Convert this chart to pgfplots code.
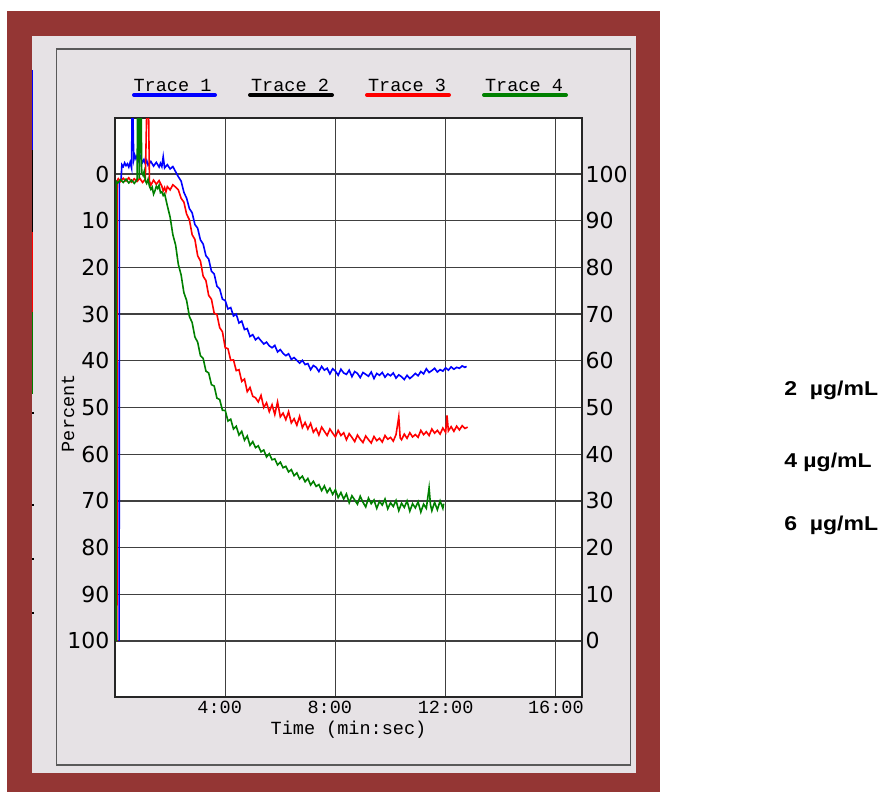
\documentclass[border=0pt]{standalone}
\usepackage{fontspec}
\setmainfont{DejaVu Sans}
\newfontfamily\mono{Liberation Mono}
\newfontfamily\arial{Liberation Sans}
\usepackage{pgfplots}
\pgfplotsset{compat=1.18}
\definecolor{frame}{HTML}{943634}
\definecolor{panel}{HTML}{E6E2E5}
\definecolor{tgreen}{HTML}{008000}
\newcommand{\monofont}{\mono\fontsize{13.9}{16}\selectfont}
\newcommand{\notefont}{\arial\bfseries\fontsize{15}{17}\selectfont}

\begin{document}
\begin{tikzpicture}
% background frame, legend and notes (image pixels)
\begin{scope}[x=0.75pt,y=-0.75pt,shift={(-115,-697)}]
  \fill[white] (0,0) rectangle (882,792);
  \fill[frame] (7,11) rectangle (660,792);
  \fill[panel] (32,36) rectangle (636,773);
  \draw[black!65, line width=1.1pt] (56.5,49) rectangle (630.5,765);
  \draw[blue, line width=1.4pt] (32.5,70) -- (32.5,150.5);
  \draw[black, line width=1.4pt] (32.5,150.5) -- (32.5,232);
  \draw[red, line width=1.4pt] (32.5,232) -- (32.5,312);
  \draw[tgreen, line width=1.4pt] (32.5,312) -- (32.5,394);
  \foreach \yy in {413,505,559,613} \fill[black] (32,\yy-0.7) rectangle (34,\yy+0.7);
  \node[font=\monofont] at (172.5,85) {Trace 1};
  \node[font=\monofont] at (290,85) {Trace 2};
  \node[font=\monofont] at (407,85) {Trace 3};
  \node[font=\monofont] at (524,85) {Trace 4};
  \draw[blue, line width=3pt, line cap=round] (134,95) -- (215,95);
  \draw[black, line width=3pt, line cap=round] (250,95) -- (332,95);
  \draw[red, line width=3pt, line cap=round] (367,95) -- (449,95);
  \draw[tgreen, line width=3pt, line cap=round] (484,95) -- (566,95);
  \node[font=\notefont, anchor=west, xscale=1.15, inner sep=0pt] at (784,390.5) {2\ \ µg/mL};
  \node[font=\notefont, anchor=west, xscale=1.15, inner sep=0pt] at (784,462) {4 µg/mL};
  \node[font=\notefont, anchor=west, xscale=1.15, inner sep=0pt] at (784,525.5) {6\ \ µg/mL};
\end{scope}

\begin{axis}[
  at={(0pt,0pt)}, anchor=south west,
  scale only axis, width=350.25pt, height=434.25pt,
  xmin=0, xmax=16.95, ymin=-12, ymax=112, y dir=reverse,
  axis background/.style={fill=white},
  axis line style={black!85, line width=1.1pt},
  grid=major, grid style={black!75, line width=1pt},
  major tick length=0pt,
  xtick={4,8,12,16},
  xticklabels={4:00\phantom{0},8:00\phantom{0},12:00,16:00},
  ytick={0,10,...,100},
  /pgf/number format/assume math mode=true,
  yticklabel style={font=\fontsize{16.5}{18}\selectfont, anchor=east, inner sep=0pt, xshift=-4pt},
  xticklabel style={font=\monofont, anchor=center, inner sep=0pt, yshift=-7.8pt},
  xlabel={Time (min:sec)},
  xlabel style={font=\monofont, at={(axis description cs:0.5,0)}, anchor=center, yshift=-24.5pt},
  ylabel={Percent},
  ylabel style={font=\monofont, at={(axis description cs:0,0.49)}, anchor=center, yshift=35.25pt},
]
% Trace 1
\addplot[blue, line width=1.2pt] coordinates {
(0.15,100) (0.16,1.5) (0.22,1.2) (0.25,-2.0) (0.30,-1.6) (0.35,-2.4) (0.40,-1.8) (0.45,-2.2)
(0.50,-1.5) (0.55,-2.5) (0.60,-1.3) (0.62,-13) (0.65,-13) (0.68,-3.0) (0.72,-4.0) (0.76,-3.3)
(0.80,-3.9) (0.85,-2.9) (0.90,-4.1) (0.95,-3.2) (1.00,-2.5) (1.05,-3.1) (1.10,-2.2) (1.15,-2.9)
(1.20,-1.9) (1.30,-2.7) (1.40,-1.7) (1.50,-2.5) (1.60,-1.5) (1.65,-2.3) (1.70,-1.6) (1.75,-3.7)
(1.80,-1.3) (1.90,-2.0) (2.00,-1.1) (2.10,-1.6) (2.20,-0.5) (2.30,0.6) (2.40,1.5) (2.50,3.9)
(2.60,5.2) (2.70,7.4) (2.80,8.3) (2.90,10.8) (3.00,11.6) (3.10,14.1) (3.20,15.0) (3.30,17.5)
(3.40,18.2) (3.50,20.8) (3.60,21.4) (3.70,24.0) (3.80,24.6) (3.90,26.8) (4.00,27.1) (4.10,28.9)
(4.20,28.6) (4.30,30.4) (4.40,30.0) (4.50,31.9) (4.60,31.5) (4.70,33.3) (4.80,33.1) (4.90,34.8)
(5.00,34.4) (5.10,35.5) (5.20,35.0) (5.30,35.7) (5.40,36.4) (5.50,36.0) (5.60,36.8) (5.70,37.2)
(5.80,36.7) (5.90,38.1) (6.00,37.6) (6.10,38.4) (6.20,38.9) (6.30,38.5) (6.40,39.7) (6.50,39.3)
(6.60,39.9) (6.70,40.5) (6.80,39.9) (6.90,40.8) (7.00,40.6) (7.10,41.9) (7.20,41.0) (7.30,41.4)
(7.40,42.3) (7.50,41.2) (7.60,42.0) (7.70,41.6) (7.80,42.8) (7.90,41.7) (8.00,42.2) (8.10,43.1)
(8.20,41.8) (8.30,42.6) (8.40,42.9) (8.50,42.0) (8.60,43.4) (8.70,42.3) (8.80,42.7) (8.90,43.6)
(9.00,42.5) (9.10,42.9) (9.20,43.3) (9.30,42.4) (9.40,43.8) (9.50,42.7) (9.60,43.1) (9.70,42.5)
(9.80,43.5) (9.90,42.8) (10.00,43.2) (10.10,42.6) (10.20,43.7) (10.30,43.0) (10.40,43.4) (10.50,44.0)
(10.60,43.1) (10.70,43.8) (10.80,43.3) (10.90,42.7) (11.00,43.2) (11.10,42.3) (11.20,42.8) (11.30,41.7)
(11.40,42.5) (11.50,42.1) (11.60,41.6) (11.70,42.4) (11.80,41.9) (11.90,42.2) (12.00,41.5) (12.10,42.0)
(12.20,41.3) (12.30,41.8) (12.40,41.4) (12.50,41.6) (12.60,41.1) (12.70,41.4) (12.76,41.2)
};
% Trace 3
\addplot[red, line width=1.2pt] coordinates {
(0.07,100) (0.08,1.4) (0.12,1.0) (0.2,1.6) (0.3,0.9) (0.4,1.5) (0.5,0.8) (0.6,1.7)
(0.7,1.0) (0.8,1.6) (0.9,0.9) (1.0,1.8) (1.1,1.1) (1.15,-13) (1.22,-13) (1.25,1.5)
(1.3,2.4) (1.4,1.3) (1.5,2.2) (1.6,1.4) (1.7,2.6) (1.75,3.6) (1.8,2.9) (1.85,3.8)
(1.9,2.7) (2.0,3.4) (2.1,2.3) (2.2,2.8) (2.3,3.4) (2.4,5.2) (2.5,6.0) (2.6,8.6)
(2.7,9.8) (2.8,13.0) (2.9,14.0) (3.0,17.5) (3.1,18.6) (3.2,21.9) (3.3,22.8) (3.4,26.0)
(3.5,26.8) (3.6,29.8) (3.7,30.1) (3.8,32.9) (3.9,33.8) (4.0,37.2) (4.1,37.4) (4.2,39.9)
(4.3,39.8) (4.4,42.1) (4.5,41.9) (4.6,44.4) (4.7,43.9) (4.8,46.6) (4.9,45.7) (5.0,47.6)
(5.1,47.9) (5.2,48.8) (5.3,47.4) (5.4,50.0) (5.5,49.0) (5.6,50.9) (5.7,49.4) (5.8,51.5)
(5.9,48.8) (6.0,52.0) (6.1,51.2) (6.2,52.6) (6.3,50.9) (6.4,53.3) (6.5,52.4) (6.6,53.8)
(6.7,51.9) (6.8,54.3) (6.9,53.2) (7.0,54.6) (7.1,53.4) (7.2,55.3) (7.3,54.5) (7.4,55.9)
(7.5,54.2) (7.6,55.1) (7.7,56.0) (7.8,54.6) (7.9,55.5) (8.0,56.3) (8.1,54.9) (8.2,56.0)
(8.3,55.4) (8.4,56.9) (8.5,55.6) (8.6,56.4) (8.7,57.3) (8.8,55.9) (8.9,56.8) (9.0,57.5)
(9.1,56.1) (9.2,56.9) (9.3,57.6) (9.4,56.2) (9.5,57.1) (9.6,56.6) (9.7,57.4) (9.8,56.0)
(9.9,56.8) (10.0,56.4) (10.1,57.2) (10.2,55.8) (10.3,52.0) (10.35,56.5) (10.4,56.9) (10.5,55.7)
(10.6,56.6) (10.7,55.4) (10.8,56.3) (10.9,55.8) (11.0,56.4) (11.1,54.9) (11.2,55.8) (11.3,55.2)
(11.4,56.0) (11.5,54.6) (11.6,55.5) (11.7,54.9) (11.8,55.7) (11.9,54.4) (12.0,55.3) (12.05,51.7)
(12.1,55.0) (12.2,54.1) (12.3,55.1) (12.4,54.0) (12.5,54.8) (12.6,53.9) (12.7,54.5) (12.8,54.2)
};
% Trace 4
\addplot[tgreen, line width=1.2pt] coordinates {
(0.04,100) (0.05,1.6) (0.1,1.9) (0.2,1.2) (0.3,1.8) (0.4,1.1) (0.5,1.9) (0.6,1.3)
(0.7,2.0) (0.8,1.2) (0.82,-13) (0.86,-13) (0.88,1.0) (0.92,-13) (0.95,-13) (0.97,-0.4)
(1.02,0.3) (1.06,-0.6) (1.1,1.4) (1.15,2.0) (1.2,1.1) (1.25,2.6) (1.3,3.3) (1.35,2.8)
(1.4,4.3) (1.45,3.6) (1.5,2.6) (1.55,3.1) (1.6,2.4) (1.65,4.0) (1.7,3.8) (1.75,4.6)
(1.8,4.2) (1.9,6.8) (2.0,9.2) (2.1,13.0) (2.2,15.2) (2.3,19.4) (2.4,21.6) (2.5,25.4)
(2.6,27.1) (2.7,30.5) (2.8,31.8) (2.9,34.9) (3.0,36.0) (3.1,38.9) (3.2,39.5) (3.3,42.2)
(3.4,42.6) (3.5,45.1) (3.6,45.4) (3.7,48.0) (3.8,48.3) (3.9,50.6) (4.0,50.6) (4.1,52.9)
(4.2,52.5) (4.3,54.6) (4.4,54.0) (4.5,55.9) (4.6,55.1) (4.7,57.0) (4.8,56.1) (4.9,58.1)
(5.0,57.3) (5.1,58.6) (5.2,58.2) (5.3,59.5) (5.4,59.1) (5.5,60.6) (5.6,59.9) (5.7,61.2)
(5.8,61.0) (5.9,62.3) (6.0,61.7) (6.1,62.9) (6.2,62.6) (6.3,63.8) (6.4,63.3) (6.5,64.6)
(6.6,64.0) (6.7,65.3) (6.8,64.7) (6.9,65.9) (7.0,65.2) (7.1,66.6) (7.2,65.8) (7.3,66.9)
(7.4,66.5) (7.5,67.8) (7.6,66.8) (7.7,68.2) (7.8,67.3) (7.9,68.6) (8.0,67.6) (8.1,69.3)
(8.2,68.2) (8.3,69.6) (8.4,68.5) (8.5,70.4) (8.6,68.9) (8.7,69.8) (8.8,70.7) (8.9,69.0)
(9.0,70.3) (9.1,71.3) (9.2,69.4) (9.3,70.6) (9.4,69.8) (9.5,71.6) (9.6,70.1) (9.7,70.9)
(9.8,69.6) (9.9,71.7) (10.0,70.4) (10.1,71.2) (10.2,69.9) (10.3,72.1) (10.4,70.5) (10.5,71.4)
(10.6,70.0) (10.7,72.2) (10.8,70.6) (10.9,71.5) (11.0,70.2) (11.1,72.4) (11.2,70.7) (11.3,71.6)
(11.4,67.2) (11.45,70.8) (11.5,72.1) (11.6,70.3) (11.7,71.9) (11.8,70.0) (11.9,71.6) (11.93,70.6)
};
\end{axis}

% right-hand scale
\begin{axis}[
  at={(0pt,0pt)}, anchor=south west,
  scale only axis, width=350.25pt, height=434.25pt,
  xmin=0, xmax=16.95, ymin=-12, ymax=112,
  hide x axis, axis y line*=right,
  axis line style={draw=none},
  major tick length=0pt,
  ytick={0,10,...,100},
  /pgf/number format/assume math mode=true,
  yticklabel style={font=\fontsize{16.5}{18}\selectfont, anchor=west, inner sep=0pt, xshift=2.5pt},
]
\end{axis}

\begin{scope}[x=0.75pt,y=-0.75pt,shift={(-115,-697)}]
  \pgfresetboundingbox
  \path[use as bounding box] (0,0) rectangle (882,792);
\end{scope}
\end{tikzpicture}
\end{document}
